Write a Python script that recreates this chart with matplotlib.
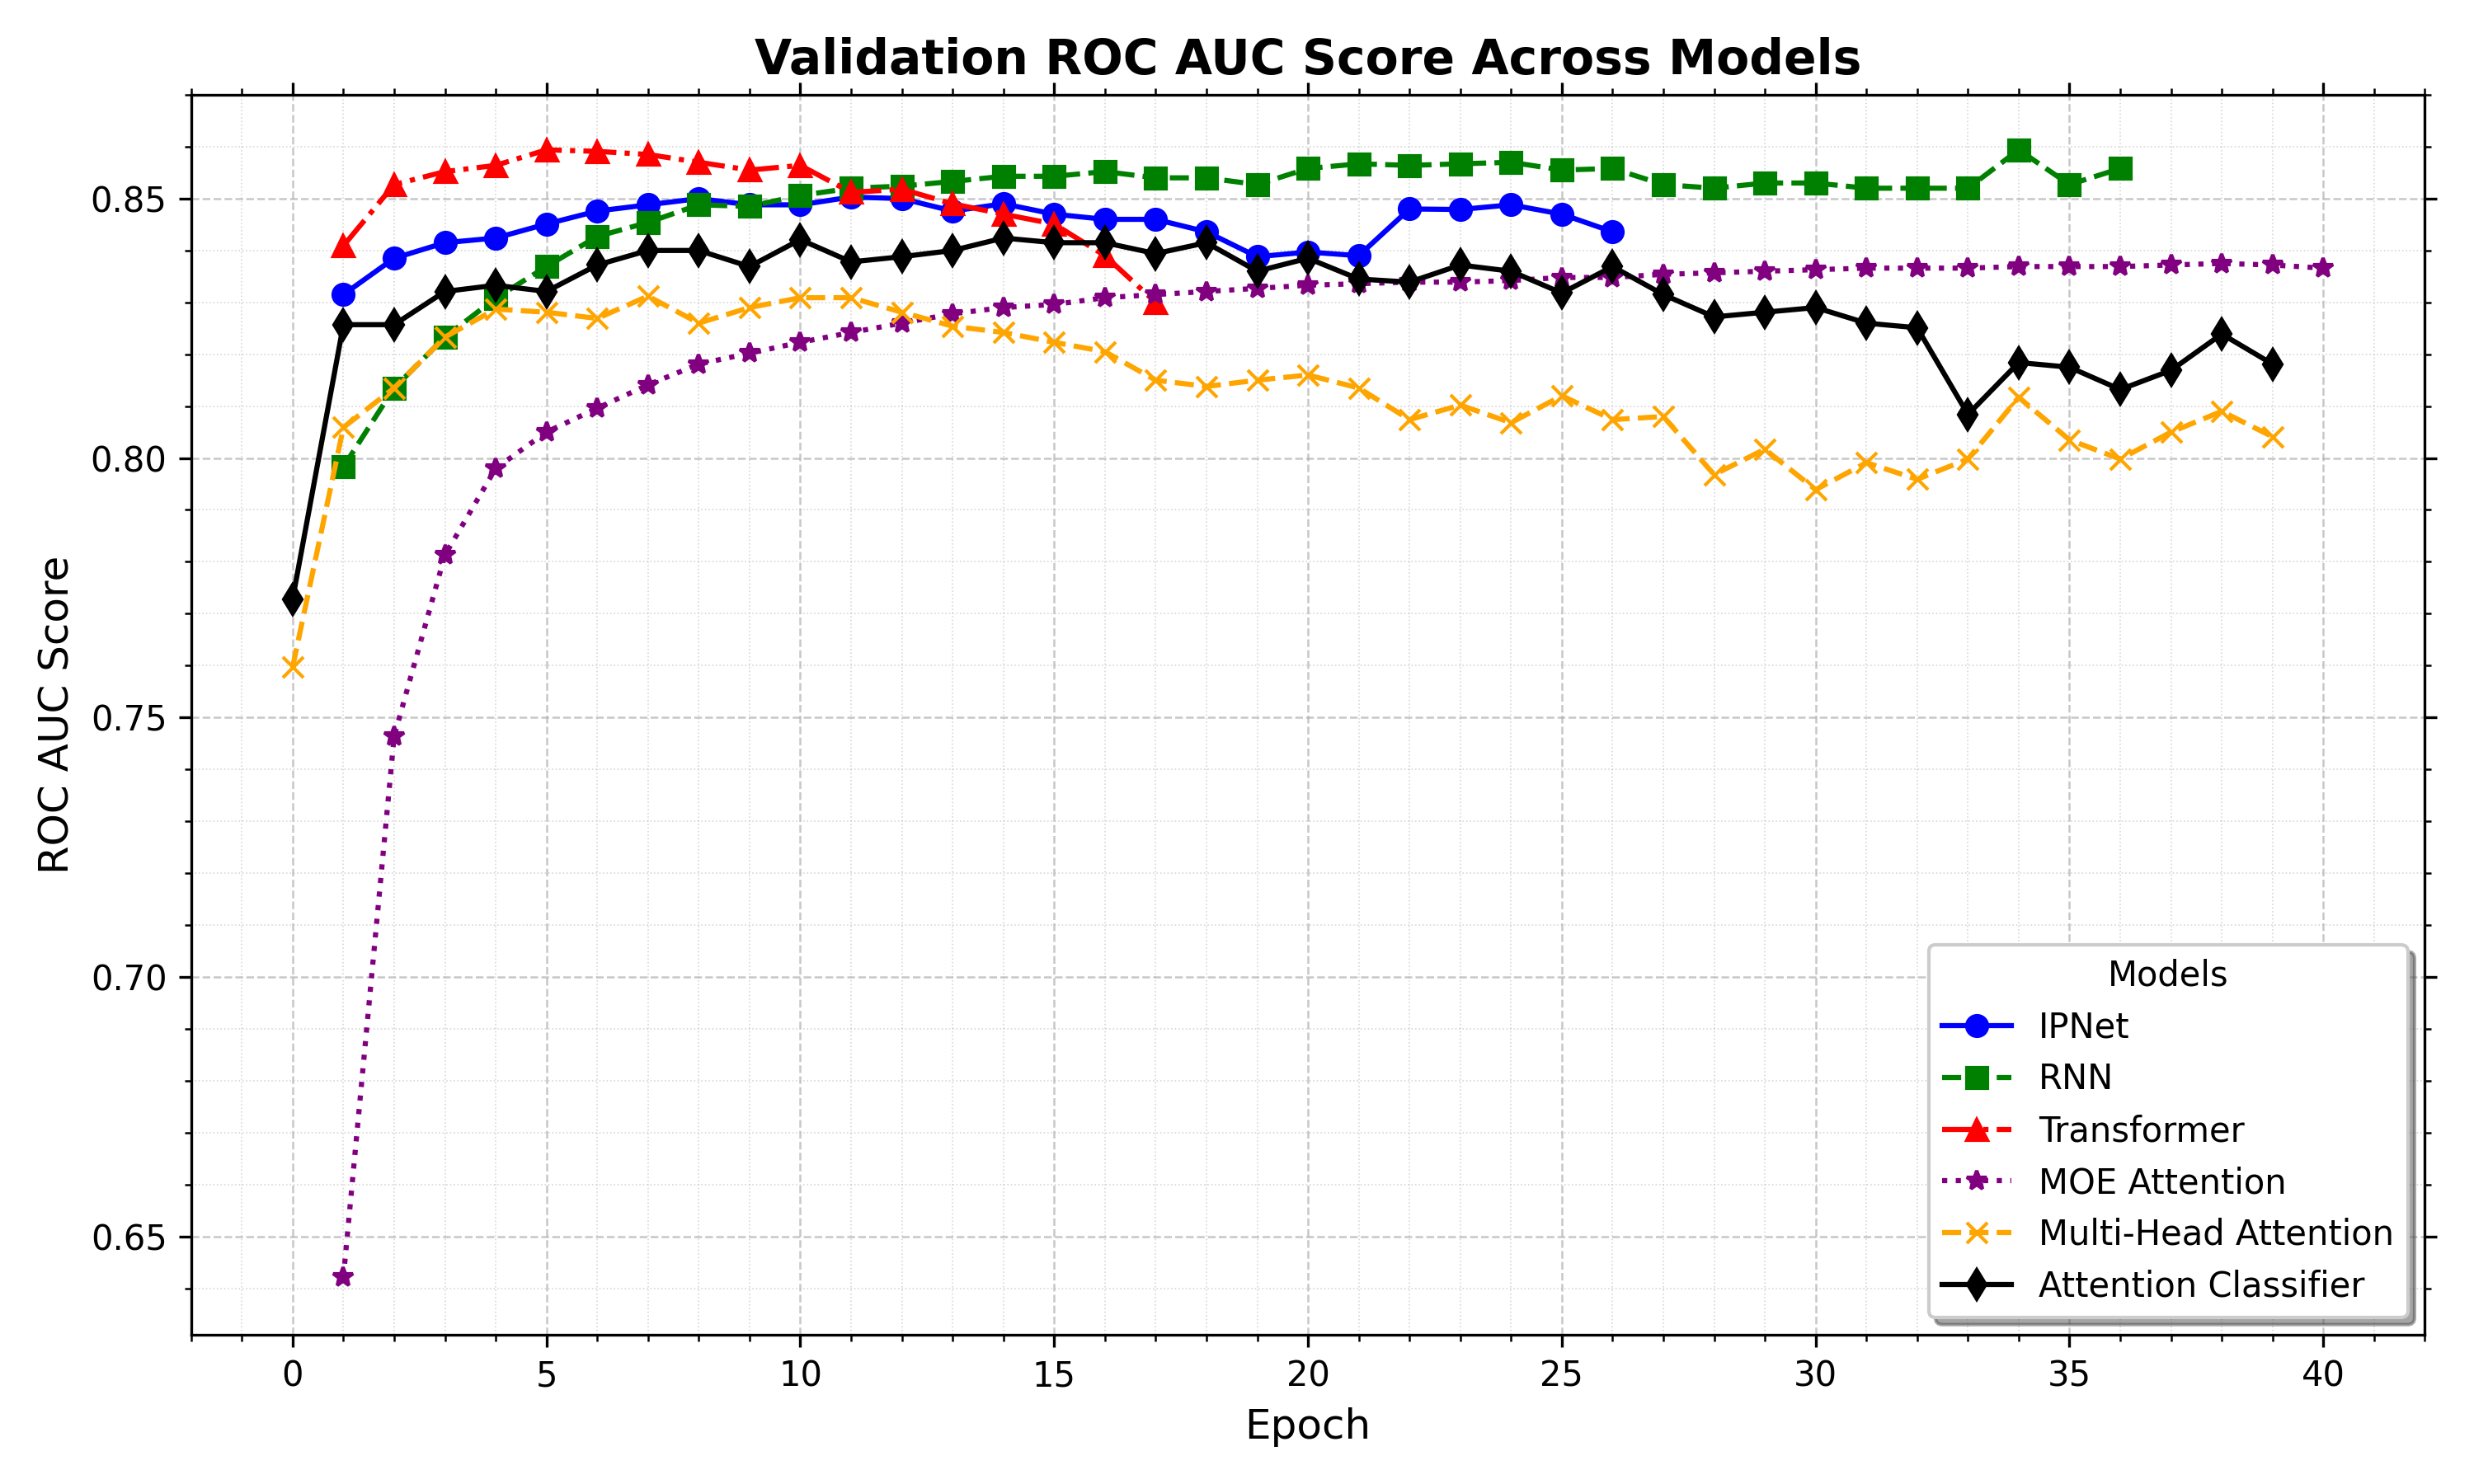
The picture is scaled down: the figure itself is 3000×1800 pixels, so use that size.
import numpy as np
import matplotlib.pyplot as plt

ipnet = [0.8315, 0.8385, 0.8415, 0.8424, 0.8451, 0.8476, 0.8488, 0.850, 0.8488, 0.8488,
         0.8503, 0.850, 0.8476, 0.849, 0.847, 0.846, 0.846, 0.8436, 0.8388, 0.8397,
         0.839, 0.848, 0.8479, 0.8488, 0.847, 0.8436]
rnn = [0.7983, 0.8135, 0.8233, 0.8308, 0.8369, 0.8427, 0.8454, 0.8488, 0.8485, 0.8506,
       0.852, 0.8524, 0.8533, 0.8543, 0.8543, 0.8552, 0.854, 0.854, 0.8527, 0.8558,
       0.8567, 0.8564, 0.8567, 0.857, 0.8555, 0.8558, 0.8527, 0.852, 0.853, 0.853,
       0.852, 0.852, 0.852, 0.8594, 0.8527, 0.8558]
transformer = [0.8409, 0.8527, 0.8552, 0.8564, 0.8594, 0.8591, 0.8585, 0.857, 0.8555, 0.8564,
               0.8512, 0.8518, 0.849, 0.847, 0.8451, 0.839, 0.830]
moe = [0.6421, 0.7464, 0.7813, 0.798, 0.805, 0.8096, 0.8141, 0.8181, 0.8202, 0.8223,
       0.8242, 0.826, 0.8278, 0.829, 0.8296, 0.8309, 0.8315, 0.8321, 0.8327, 0.8333,
       0.8336, 0.8339, 0.8339, 0.8342, 0.8348, 0.8348, 0.8354, 0.8357, 0.836, 0.8363,
       0.8366, 0.8366, 0.8366, 0.8369, 0.8369, 0.8369, 0.8372, 0.8375, 0.8372, 0.8366]
mha = [0.7597, 0.8059, 0.8135, 0.8233, 0.8287, 0.8281, 0.8269, 0.8312, 0.826, 0.829,
       0.8309, 0.8309, 0.8281, 0.8254, 0.8242, 0.8223, 0.8205, 0.815, 0.8138, 0.815,
       0.816, 0.8135, 0.8074, 0.8102, 0.8068, 0.812, 0.8074, 0.808, 0.7968, 0.8017,
       0.7939, 0.7991, 0.7959, 0.7998, 0.8117, 0.8035, 0.7998, 0.805, 0.809, 0.8041]
attn = [0.7728, 0.8257, 0.8257, 0.8321, 0.8333, 0.8321, 0.8372, 0.840, 0.840, 0.8369,
        0.8421, 0.8378, 0.8388, 0.840, 0.8424, 0.8415, 0.8415, 0.8394, 0.8415, 0.836,
        0.8385, 0.8345, 0.8339, 0.8372, 0.836, 0.8318, 0.8369, 0.8315, 0.8272, 0.8281,
        0.829, 0.826, 0.8251, 0.8084, 0.8184, 0.8175, 0.8132, 0.8169, 0.8239, 0.8181]

fig, ax = plt.subplots(figsize=(10, 6), dpi=300)

ax.plot(np.arange(1, len(ipnet) + 1), ipnet, color='blue', ls='-', marker='o', ms=6, label='IPNet')
ax.plot(np.arange(1, len(rnn) + 1), rnn, color='green', ls='--', marker='s', ms=6, label='RNN')
ax.plot(np.arange(1, len(transformer) + 1), transformer, color='red', ls='-.', marker='^', ms=6, label='Transformer')
ax.plot(np.arange(1, len(moe) + 1), moe, color='purple', ls=':', marker='*', ms=6, label='MOE Attention')
ax.plot(np.arange(0, len(mha)), mha, color='orange', ls='--', marker='x', ms=6, label='Multi-Head Attention')
ax.plot(np.arange(0, len(attn)), attn, color='black', ls='-', marker='d', ms=6, label='Attention Classifier')

ax.set_xlim(-2, 42)
ax.set_ylim(0.631, 0.870)
ax.minorticks_on()
ax.grid(which='major', ls='--', lw=0.6, alpha=0.7)
ax.grid(which='minor', ls=':', lw=0.4, alpha=0.5)
ax.tick_params(which='both', top=True, right=True)

ax.set_title('Validation ROC AUC Score Across Models', fontsize=14, fontweight='bold')
ax.set_xlabel('Epoch', fontsize=12)
ax.set_ylabel('ROC AUC Score', fontsize=12)
ax.legend(title='Models', loc='lower right', shadow=True, fancybox=True, fontsize=10, title_fontsize=10)

fig.tight_layout()
fig.savefig('out.png')
